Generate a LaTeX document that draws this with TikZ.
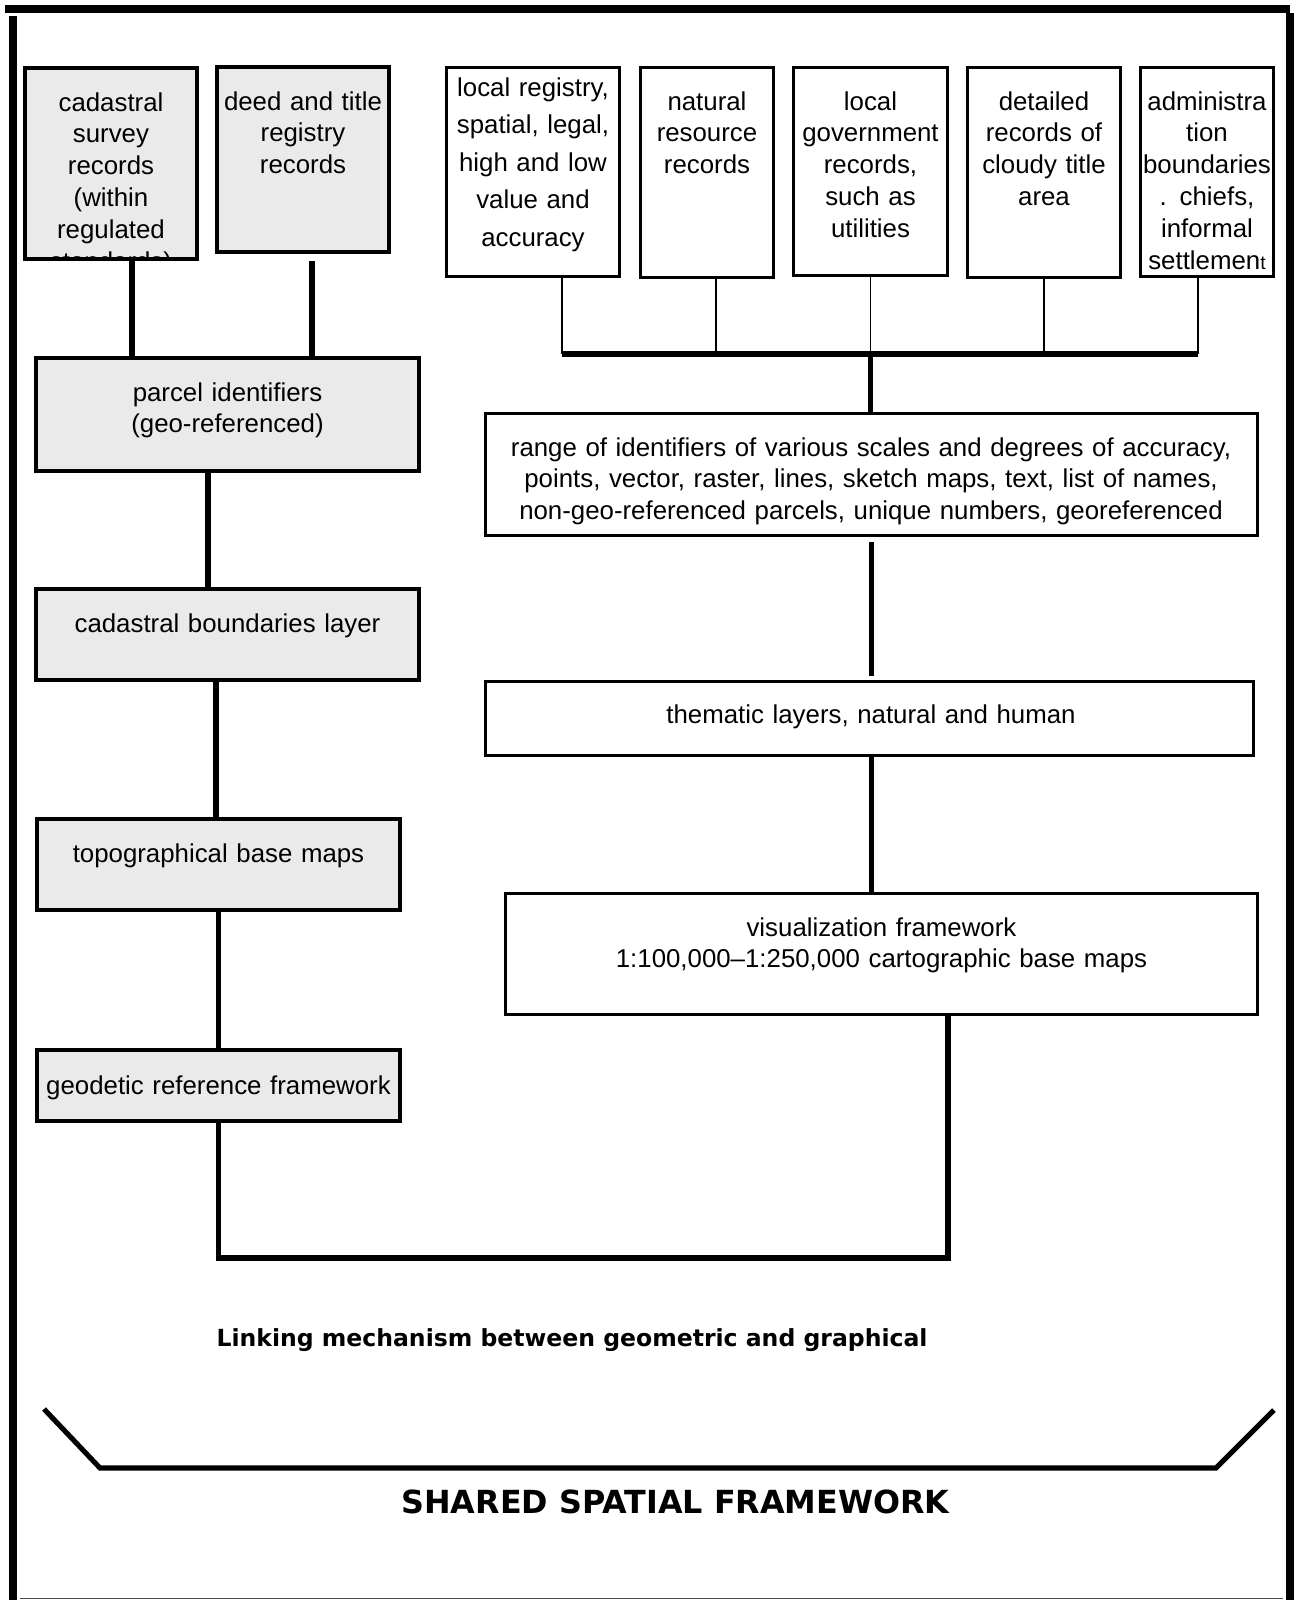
\documentclass[tikz,border=0pt]{standalone}
\usepackage{fontspec}
\setmainfont{Liberation Sans}
\newfontfamily\headfont{DejaVu Sans}
\usepackage{tikz}
\definecolor{boxgray}{RGB}{234,234,234}

\begin{document}
\begin{tikzpicture}[x=0.02cm, y=-0.02cm,
    graybox/.style={rectangle, draw=black, fill=boxgray, line width=2.2pt, inner sep=0pt},
    whitebox/.style={rectangle, draw=black, fill=white, line width=1.8pt, inner sep=0pt},
    boxtext/.style={anchor=base, align=center, text width=16cm, inner sep=0pt, font=\fontsize{14.7pt}{18.1pt}\selectfont},
    link/.style={line width=2.9pt},
    feed/.style={line width=0.9pt},
    bus/.style={line width=3.2pt},
    outerframe/.style={line width=4.5pt},
    heading/.style={anchor=base, inner sep=0pt}
  ]
    \useasboundingbox (0,0) rectangle (1297,1600);

    % outer frame
    \draw[outerframe] (5,9) -- (1290,9);
    \draw[outerframe] (13,16) -- (13,1600);
    \draw[outerframe] (1290,13) -- (1290,1600);
    \draw[line width=0.8pt, black!70] (20,1598.5) -- (1283,1598.5);

    % left column
    \node[graybox, minimum width=3.44cm, minimum height=3.82cm] (cad) at (111,163.5) {};
    \node[graybox, minimum width=3.44cm, minimum height=3.70cm] (deed) at (303,159.5) {};
    \node[graybox, minimum width=7.66cm, minimum height=2.26cm] (parcel) at (227.5,414.5) {};
    \node[graybox, minimum width=7.66cm, minimum height=1.82cm] (cadb) at (227.5,634.5) {};
    \node[graybox, minimum width=7.26cm, minimum height=1.82cm] (topo) at (218.5,864.5) {};
    \node[graybox, minimum width=7.26cm, minimum height=1.42cm] (geo) at (218.5,1085.5) {};

    \begin{scope}
      \clip ([yshift=1.1pt]cad.south west) rectangle (cad.north east);
      \node[boxtext] (cadT) at (111,111) {cadastral\\survey\\records\\(within\\regulated\\standards)};
    \end{scope}
    \node[boxtext] (deedT) at (303,110) {deed and title\\registry\\records};
    \node[boxtext] (parcelT) at (227.5,401) {parcel identifiers\\(geo-referenced)};
    \node[boxtext] (cadbT) at (227.5,632) {cadastral boundaries layer};
    \node[boxtext] (topoT) at (218.5,862) {topographical base maps};
    \node[boxtext] (geoT) at (218.5,1094) {geodetic reference framework};

    % top row of records
    \node[whitebox, minimum width=3.46cm, minimum height=4.18cm] (locreg) at (533,172) {};
    \node[whitebox, minimum width=2.66cm, minimum height=4.20cm] (natres) at (707,172.5) {};
    \node[whitebox, minimum width=3.08cm, minimum height=4.16cm] (locgov) at (870.5,171.5) {};
    \node[whitebox, minimum width=3.06cm, minimum height=4.20cm] (detail) at (1044,172.5) {};
    \node[whitebox, minimum width=2.66cm, minimum height=4.18cm] (admin) at (1207,172) {};

    \node[boxtext, font=\fontsize{14.7pt}{21.4pt}\selectfont] (locregT) at (533,96) {local registry,\\spatial, legal,\\high and low\\value and\\accuracy};
    \node[boxtext] (natresT) at (707,110) {natural\\resource\\records};
    \node[boxtext] (locgovT) at (870.5,110) {local\\government\\records,\\such as\\utilities};
    \node[boxtext] (detailT) at (1044,110) {detailed\\records of\\cloudy title\\area};
    \node[boxtext] (adminT) at (1207,110) {administra\\tion\\boundaries\\. chiefs,\\informal\\settlemen{\fontsize{11pt}{11pt}\selectfont t}};

    % right column
    \node[whitebox, minimum width=15.44cm, minimum height=2.44cm] (range) at (871.5,474.5) {};
    \node[whitebox, minimum width=15.36cm, minimum height=1.48cm] (them) at (869.5,718.5) {};
    \node[whitebox, minimum width=15.04cm, minimum height=2.42cm] (vis) at (881.5,954) {};

    \node[boxtext] (rangeT) at (871,456) {range of identifiers of various scales and degrees of accuracy,\\points, vector, raster, lines, sketch maps, text, list of names,\\non-geo-referenced parcels, unique numbers, georeferenced};
    \node[boxtext] (themT) at (871,723) {thematic layers, natural and human};
    \node[boxtext] (visT) at (881.5,936) {visualization framework\\1:100,000--1:250,000 cartographic base maps};

    % connectors, left
    \draw[link] ([xshift=0.42cm]cad.south) -- ([xshift=0.42cm]cad.south |- parcel.north);
    \draw[link, shorten <=0.14cm] ([xshift=0.18cm]deed.south) -- ([xshift=0.18cm]deed.south |- parcel.north);
    \draw[link] ([xshift=-0.39cm]parcel.south) -- ([xshift=-0.39cm]parcel.south |- cadb.north);
    \draw[link] ([xshift=-0.23cm]cadb.south) -- ([xshift=-0.23cm]cadb.south |- topo.north);
    \draw[link] (topo.south) -- (geo.north);

    % connectors, top row
    \coordinate (busL) at (562,354);
    \coordinate (busR) at (1198,354);
    \draw[feed] (locreg.south -| busL) -- (busL);
    \draw[feed] ([xshift=0.18cm]natres.south) -- ([xshift=0.18cm]natres.south |- busL);
    \draw[feed] (locgov.south) -- (locgov.south |- busL);
    \draw[feed] (detail.south) -- (detail.south |- busL);
    \draw[feed] (admin.south -| busR) -- (busR);
    \draw[bus] (busL) -- (busR);
    \draw[link] (locgov.south |- busL) -- (locgov.south |- range.north);

    % connectors, right
    \draw[link, shorten <=0.1cm, shorten >=0.08cm] (range.south) -- (range.south |- them.north);
    \draw[link] (range.south |- them.south) -- (range.south |- vis.north);

    % linking loop
    \coordinate (linkR) at (948,1258);
    \draw[link] (geo.south) |- (linkR) -- (linkR |- vis.south);

    \node[heading, font=\headfont\bfseries\fontsize{13.4pt}{16pt}\selectfont] (linkT) at (572,1346) {Linking mechanism between geometric and graphical};

    % bracket
    \draw[link] (44,1409) -- (100,1468) -- (1216,1468) -- (1274,1410);
    \node[heading, font=\headfont\bfseries\fontsize{18.1pt}{21pt}\selectfont] (sharedT) at (675.5,1513) {SHARED SPATIAL FRAMEWORK};
\end{tikzpicture}
\end{document}
